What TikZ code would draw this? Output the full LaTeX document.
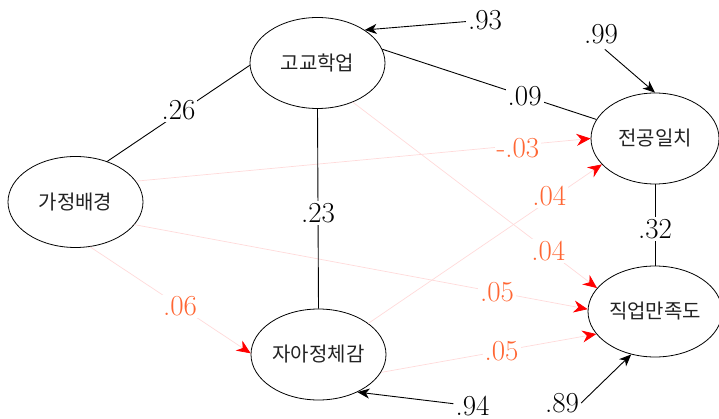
\documentclass[tikz,border=0pt]{standalone}
\usepackage{fontspec}
\newfontfamily\krfont{Noto Sans CJK KR}
\usetikzlibrary{arrows.meta,shapes.geometric}
\definecolor{lnk}{RGB}{255,218,218}
\definecolor{lab}{RGB}{255,102,51}
\definecolor{txt}{RGB}{34,34,34}
\begin{document}
\begin{tikzpicture}[x=1pt,y=-1pt,
  var/.style={draw, ellipse, line width=0.8pt, minimum width=135pt, minimum height=91pt,
    inner sep=0pt, font=\krfont\fontsize{20}{24}\selectfont, text=txt},
  coef/.style={fill=white, inner sep=2pt, font=\fontsize{29}{32}\selectfont, text=black},
  rcoef/.style={coef, text=lab},
  blk/.style={line width=0.9pt},
  rpath/.style={draw=lnk, line width=0.7pt, -{Stealth[color=red,length=14pt,width=12pt,inset=4.5pt]}},
  err/.style={line width=0.9pt, -{Stealth[length=12pt,width=10pt,inset=3.5pt]}},
  errlab/.style={inner sep=2pt, font=\fontsize{29}{32}\selectfont}
]
\useasboundingbox (0,0) rectangle (719,419);

\node[var] (A) at (75.5,202) {가정배경};
\node[var] (B) at (317.5,63) {고교학업};
\node[var, minimum width=128pt] (C) at (655,138.5) {전공일치};
\node[var] (D) at (318.5,354.5) {자아정체감};
\node[var, minimum width=134pt] (E) at (655,311.5) {직업만족도};

% pink paths
\draw[rpath] (A.19) -- node[rcoef, pos=0.84, yshift=-2.5pt] (l1) {-.03} (C.180);
\draw[rpath] (A.-21) -- node[rcoef, pos=0.8] (l2) {.05} (E.178);
\draw[rpath] (A.-72) -- node[rcoef, pos=0.56] (l3) {.06} (D.179);
\draw[rpath] (B.-48) -- node[rcoef, pos=0.8] (l4) {.04} (E.158);
\draw[rpath] (D.32) -- node[rcoef, pos=0.775, yshift=4pt] (l5) {.04} (C.206);
\draw[rpath] (D.-16) -- node[rcoef, pos=0.56] (l6) {.05} (E.201);

% black paths
\draw[blk] (A.52) -- node[coef, pos=0.5, yshift=3pt] (k1) {.26} (B.182);
\draw[blk] (B.12) -- node[coef, pos=0.665] (k2) {.09} (C.162);
\draw[blk] (B.270) -- node[coef, pos=0.52] (k3) {.23} (D.90);
\draw[blk] (C.270) -- node[coef, pos=0.55] (k4) {.32} (E.90);

% error terms
\node[errlab] (e1) at (485,20) {.93};
\node[errlab] (e2) at (601,34) {.99};
\node[errlab] (e3) at (472.5,406) {.94};
\node[errlab] (e4) at (562,403) {.89};
\draw[err] (e1) -- (B.35);
\draw[err, shorten <=5pt] (e2.south) -- (C.90);
\draw[err] (e3) -- (D.-44);
\draw[err] (e4.east) -- (E.241);
\end{tikzpicture}
\end{document}
